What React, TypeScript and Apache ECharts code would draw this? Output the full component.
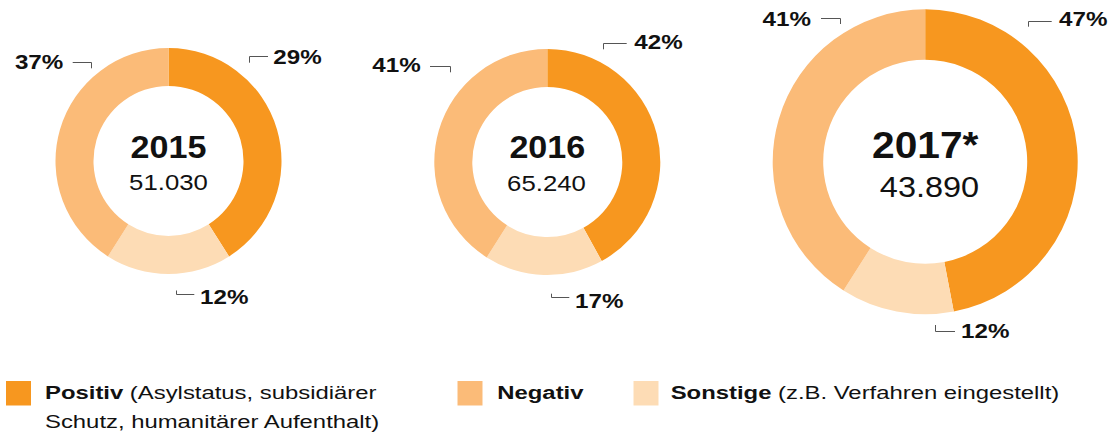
import React, { useEffect, useRef } from "react";
import * as echarts from "echarts";

// ---- data ----
const categories = ["Positiv", "Sonstige", "Negativ"];
const categoryColors = ["#F7971F", "#FBBB78", "#FDDCB5"];
const years = ["2015", "2016", "2017*"];
const totals = ["51.030", "65.240", "43.890"];
// arc shares as drawn in the picture (Positiv, Sonstige, Negativ)
const shares2015 = [41, 18, 41];
const shares2016 = [42, 17, 41];
const shares2017 = [47, 12, 41];
// percentages as printed next to each donut (Positiv, Sonstige, Negativ)
const printed2015 = ["29%", "12%", "37%"];
const printed2016 = ["42%", "17%", "41%"];
const printed2017 = ["47%", "12%", "41%"];

const FONT = "'Liberation Sans', Arial, Helvetica, sans-serif";
const sliceColors = ["#F7971F", "#FDDCB5", "#FBBB78"]; // Positiv, Sonstige, Negativ

type Donut = {
  center: [number, number];
  radius: [number, number];
  shares: number[];
  printed: string[];
  year: string;
  total: string;
  yearSize: number;
  totalSize: number;
  yearY: number;
  totalY: number;
  totalX: number;
  // label placements: [Positiv, Sonstige, Negativ]
  labelPos: { x: number; y: number; align: "left" | "right"; tick: number[][] }[];
};

const donuts: Donut[] = [
  {
    center: [168.5, 161],
    radius: [75, 113],
    shares: shares2015,
    printed: printed2015,
    year: years[0],
    total: totals[0],
    yearSize: 31,
    totalSize: 23,
    yearY: 148,
    totalY: 182,
    totalX: 168.5,
    labelPos: [
      { x: 273.3, y: 57.5, align: "left", tick: [[249.5, 62.7], [249.5, 56.5], [268, 56.5]] },
      { x: 200, y: 297, align: "left", tick: [[176.5, 290.5], [176.5, 294.5], [194.3, 294.5]] },
      { x: 63.3, y: 62.5, align: "right", tick: [[72.7, 62.5], [91.5, 62.5], [91.5, 68.3]] },
    ],
  },
  {
    center: [547.3, 162],
    radius: [75, 113],
    shares: shares2016,
    printed: printed2016,
    year: years[1],
    total: totals[1],
    yearSize: 31,
    totalSize: 23,
    yearY: 147.5,
    totalY: 182.5,
    totalX: 546.5,
    labelPos: [
      { x: 634.3, y: 42.5, align: "left", tick: [[603.5, 49.3], [603.5, 43.5], [626.7, 43.5]] },
      { x: 575, y: 301, align: "left", tick: [[551.5, 293.7], [551.5, 297.5], [569.3, 297.5]] },
      { x: 420.7, y: 65, align: "right", tick: [[430, 66.5], [450.5, 66.5], [450.5, 72.3]] },
    ],
  },
  {
    center: [925.2, 161.8],
    radius: [102, 152.5],
    shares: shares2017,
    printed: printed2017,
    year: years[2],
    total: totals[2],
    yearSize: 37,
    totalSize: 29,
    yearY: 145,
    totalY: 187,
    totalX: 929.5,
    labelPos: [
      { x: 1059, y: 19, align: "left", tick: [[1028.5, 26.7], [1028.5, 21.5], [1051.7, 21.5]] },
      { x: 961, y: 331.7, align: "left", tick: [[935.5, 325], [935.5, 331.5], [955, 331.5]] },
      { x: 811, y: 19, align: "right", tick: [[821, 18.5], [840.5, 18.5], [840.5, 24]] },
    ],
  },
];

const legendItems = [
  { x: 6, tx: 45, bold: categories[0], rest: " (Asylstatus, subsidiärer\nSchutz, humanitärer Aufenthalt)", color: categoryColors[0] },
  { x: 457.5, tx: 497.3, bold: categories[2], rest: "", color: categoryColors[1] },
  { x: 633.5, tx: 670.7, bold: categories[1], rest: " (z.B. Verfahren eingestellt)", color: categoryColors[2] },
];

export default function App() {
  const ref = useRef<HTMLDivElement>(null);

  useEffect(() => {
    document.body.style.margin = "0";
    if (!ref.current) return;
    const chart = echarts.init(ref.current, undefined, { renderer: "svg" });

    const series = donuts.map((d) => ({
      type: "pie" as const,
      center: d.center,
      radius: d.radius,
      startAngle: 90,
      clockwise: true,
      silent: true,
      label: { show: false },
      labelLine: { show: false },
      itemStyle: { borderWidth: 0 },
      emphasis: { disabled: true },
      data: [categories[0], categories[1], categories[2]].map((name, i) => ({
        name,
        value: d.shares[i],
        itemStyle: { color: sliceColors[i] },
      })),
    }));

    const graphics: any[] = [];
    donuts.forEach((d) => {
      graphics.push({
        type: "text",
        x: d.center[0],
        y: d.yearY,
        scaleX: 1.1,
        style: {
          text: d.year,
          fontFamily: FONT,
          fontWeight: "bold",
          fontSize: d.yearSize,
          fill: "#111",
          align: "center",
          verticalAlign: "middle",
        },
      });
      graphics.push({
        type: "text",
        x: d.totalX,
        y: d.totalY,
        scaleX: 1.12,
        style: {
          text: d.total,
          fontFamily: FONT,
          fontSize: d.totalSize,
          fill: "#111",
          align: "center",
          verticalAlign: "middle",
        },
      });
      d.labelPos.forEach((lp, i) => {
        graphics.push({
          type: "text",
          x: lp.x,
          y: lp.y,
          scaleX: 1.24,
          style: {
            text: d.printed[i],
            fontFamily: FONT,
            fontWeight: "bold",
            fontSize: 19.5,
            fill: "#111",
            align: lp.align,
            verticalAlign: "middle",
          },
        });
        graphics.push({
          type: "polyline",
          shape: { points: lp.tick },
          style: { stroke: "#555", lineWidth: 1, fill: null },
        });
      });
    });

    legendItems.forEach((li) => {
      graphics.push({
        type: "rect",
        shape: { x: li.x, y: 381, width: 25, height: 24.5 },
        style: { fill: li.color },
      });
      graphics.push({
        type: "text",
        x: li.tx,
        y: 378.5,
        scaleX: 1.29,
        style: {
          text: `{b|${li.bold}}{r|${li.rest.split("\n")[0]}}` + (li.rest.includes("\n") ? `\n{r|${li.rest.split("\n")[1]}}` : ""),
          fontFamily: FONT,
          fontSize: 18.5,
          fill: "#111",
          align: "left",
          verticalAlign: "top",
          lineHeight: 29,
          rich: {
            b: { fontFamily: FONT, fontSize: 18.5, fontWeight: "bold", fill: "#111", lineHeight: 29 },
            r: { fontFamily: FONT, fontSize: 18.5, fontWeight: "normal", fill: "#111", lineHeight: 29 },
          },
        },
      });
    });

    chart.setOption({
      animation: false,
      backgroundColor: "#ffffff",
      series,
      graphic: { elements: graphics },
    });

    return () => chart.dispose();
  }, []);

  return <div ref={ref} style={{ width: 1111, height: 435 }} />;
}
